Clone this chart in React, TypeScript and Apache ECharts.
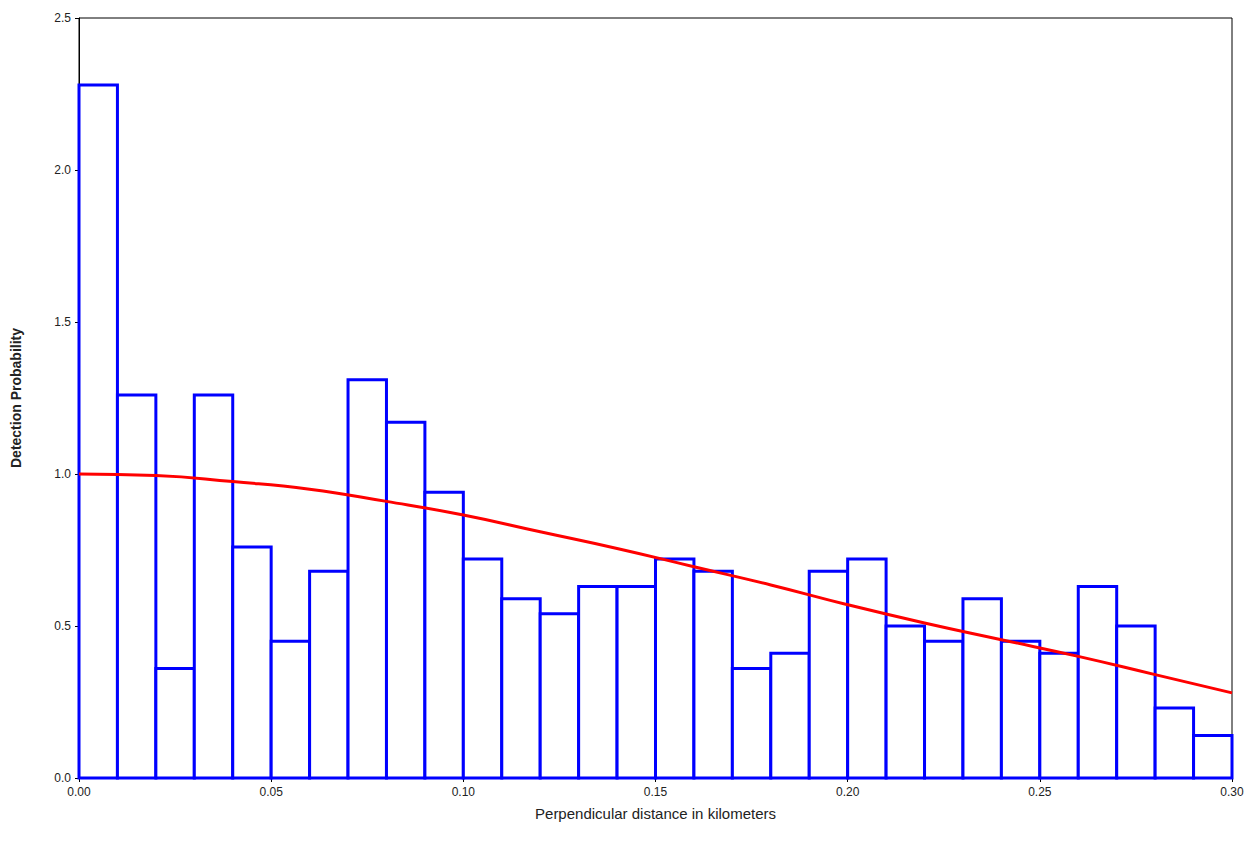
import { useEffect, useRef } from "react";
import * as echarts from "echarts";

const binStarts = [0, 0.01, 0.02, 0.03, 0.04, 0.05, 0.06, 0.07, 0.08, 0.09, 0.1, 0.11, 0.12, 0.13, 0.14, 0.15, 0.16, 0.17, 0.18, 0.19, 0.2, 0.21, 0.22, 0.23, 0.24, 0.25, 0.26, 0.27, 0.28, 0.29];
const binValues = [2.28, 1.26, 0.36, 1.26, 0.76, 0.45, 0.68, 1.31, 1.17, 0.94, 0.72, 0.59, 0.54, 0.63, 0.63, 0.72, 0.68, 0.36, 0.41, 0.68, 0.72, 0.5, 0.45, 0.59, 0.45, 0.41, 0.63, 0.5, 0.23, 0.14];
const binWidth = 0.01;
const curveX = [0, 0.02, 0.04, 0.06, 0.08, 0.1, 0.12, 0.14, 0.16, 0.18, 0.2, 0.22, 0.24, 0.26, 0.28, 0.3];
const curveY = [1.0, 0.995, 0.975, 0.95, 0.91, 0.865, 0.81, 0.755, 0.695, 0.635, 0.57, 0.51, 0.455, 0.4, 0.34, 0.28];

export default function App() {
  const ref = useRef<HTMLDivElement>(null);
  useEffect(() => {
    if (!ref.current) return;
    const chart = echarts.init(ref.current, null, { renderer: "svg" });
    const font = "Liberation Sans, Arial, sans-serif";
    chart.setOption({
      animation: false,
      textStyle: { fontFamily: font },
      grid: { left: 79, right: 24, top: 18, bottom: 67, show: true, borderColor: "#000", borderWidth: 1 },
      xAxis: {
        type: "value", min: 0, max: 0.3, interval: 0.05,
        name: "Perpendicular distance in kilometers", nameLocation: "middle", nameGap: 28,
        nameTextStyle: { fontSize: 15, color: "#222" },
        axisLine: { lineStyle: { color: "#000" } },
        axisTick: { show: true, length: 4, lineStyle: { color: "#000" } },
        axisLabel: { formatter: (v: number) => v.toFixed(2), color: "#222", fontSize: 12 },
        splitLine: { show: false },
      },
      yAxis: {
        type: "value", min: 0, max: 2.5, interval: 0.5,
        name: "Detection Probability", nameLocation: "middle", nameGap: 56,
        nameTextStyle: { fontSize: 14, color: "#222", fontWeight: "bold" },
        axisLine: { show: true, lineStyle: { color: "#000" } },
        axisTick: { show: true, length: 4, lineStyle: { color: "#000" } },
        axisLabel: { formatter: (v: number) => v.toFixed(1), color: "#222", fontSize: 12 },
        splitLine: { show: false },
      },
      series: [
        {
          type: "custom",
          data: binStarts.map((x, i) => [x, binValues[i]]),
          renderItem: (_p: any, api: any) => {
            const x0 = api.value(0);
            const y = api.value(1);
            const a = api.coord([x0, y]);
            const b = api.coord([x0 + binWidth, 0]);
            return {
              type: "rect",
              shape: { x: a[0], y: a[1], width: b[0] - a[0], height: b[1] - a[1] },
              style: { fill: "#fff", stroke: "#0000ff", lineWidth: 3 },
            };
          },
          z: 2,
        },
        {
          type: "line",
          data: curveX.map((x, i) => [x, curveY[i]]),
          smooth: true,
          symbol: "none",
          lineStyle: { color: "#ff0000", width: 3 },
          z: 3,
        },
      ],
    });
    return () => chart.dispose();
  }, []);
  return <div ref={ref} style={{ position: "fixed", left: 0, top: 0, width: 1256, height: 845, background: "#fff" }} />;
}
